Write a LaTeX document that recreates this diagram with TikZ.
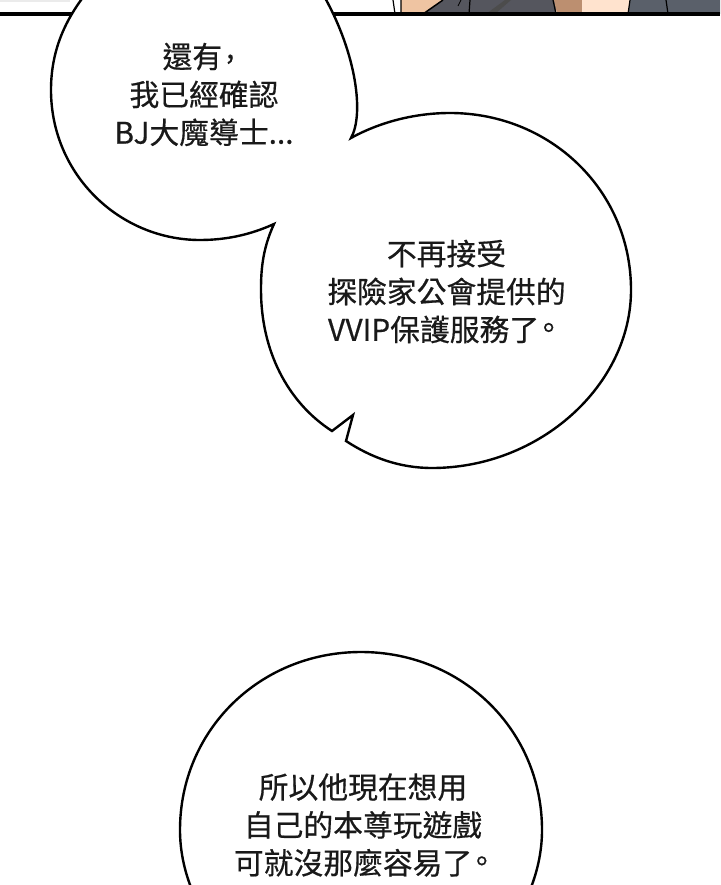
\documentclass[tikz,border=0pt]{standalone}
\usepackage{fontspec}
\newfontfamily\cjk[FakeBold=0.5]{Noto Sans CJK TC}
\newcommand{\pdot}[1]{\kern-5.5pt\raisebox{2pt}{。}\kern#1}
\definecolor{skinA}{HTML}{EFC4A2}
\definecolor{skinB}{HTML}{FFE3CE}
\definecolor{skinC}{HTML}{BC8F70}
\definecolor{suit}{HTML}{55565E}
\definecolor{suitB}{HTML}{5A606A}
\tikzset{bubble/.style={draw=black,fill=white,line width=2.4pt,line join=miter},
 says/.style={font=\cjk\fontsize{29.8}{37.9}\selectfont,align=center,text=black!90,inner sep=0pt}}
\begin{document}
\begin{tikzpicture}[x=1pt,y=-1pt]
\useasboundingbox (0,0) rectangle (720,885);
\fill[white] (0,0) rectangle (720,885);
% comic panel strip
\fill[black!8] (0,0) rectangle (70,2);
\fill[skinA] (401,0) rectangle (445,14);
\fill[suit] (423,14) -- (443,0) -- (556,0) -- (556,14) -- cycle;
\fill[black!70] (486,14) -- (505,0) -- (511,0) -- (495,14) -- cycle;
\fill[skinC] (554,0) -- (582,0) -- (582,14) -- (557,14) -- cycle;
\fill[skinB] (582,0) rectangle (630,14);
\fill[suitB] (630,0) -- (720,0) -- (720,14) -- (628,14) -- cycle;
\draw[line width=1.2pt] (393,0) -- (395,14) (401,0) -- (401,14) (470,0) -- (469,14)
 (553,0) -- (556,14) (630,0) -- (628,14) (666,0) -- (668,14);
\draw[line width=0.8pt] (461,0) -- (458,6);
\draw[line width=1.5pt] (423,14) -- (443,0);
\fill[black] (0,12.5) rectangle (720,15.8);
% bubbles
\draw[bubble] (351,138) .. controls (364,115) and (357,55) .. (324,-4)
  -- (84,-4) .. controls (62,25) and (51,55) .. (51,90)
  .. controls (51,175) and (120,240) .. (200,240)
  .. controls (228,240) and (252,234) .. (274,224)
  .. controls (262,250) and (261,272) .. (261,290)
  .. controls (261,350) and (287,402) .. (332,431)
  -- (353,415) -- (346,441)
  .. controls (372,458) and (400,468) .. (432,468)
  .. controls (540,468) and (631,385) .. (631,290)
  .. controls (631,190) and (550,113) .. (450,113)
  .. controls (415,113) and (380,122) .. (351,138) -- cycle;
\draw[bubble] (192,890) .. controls (184,870) and (180,850) .. (180,830)
  .. controls (180,730) and (260,652) .. (361,652)
  .. controls (462,652) and (542,730) .. (542,830)
  .. controls (542,850) and (538,870) .. (530,890);
% texts
\node[says] (t1) at (204,94.5) {還有\kern4pt\raisebox{9.5pt}{,}\kern11pt\\我已經確認\\BJ大魔導士...};
\node[says] (t2) at (446.5,291.5) {不再接受\\探險家公會提供的\\VVIP保護服務了\pdot{1.5pt}};
\node[says] (t3) at (363,825) {所以他現在想用\\自己的本尊玩遊戲\\可就沒那麼容易了\pdot{-4.5pt}};
\end{tikzpicture}
\end{document}
